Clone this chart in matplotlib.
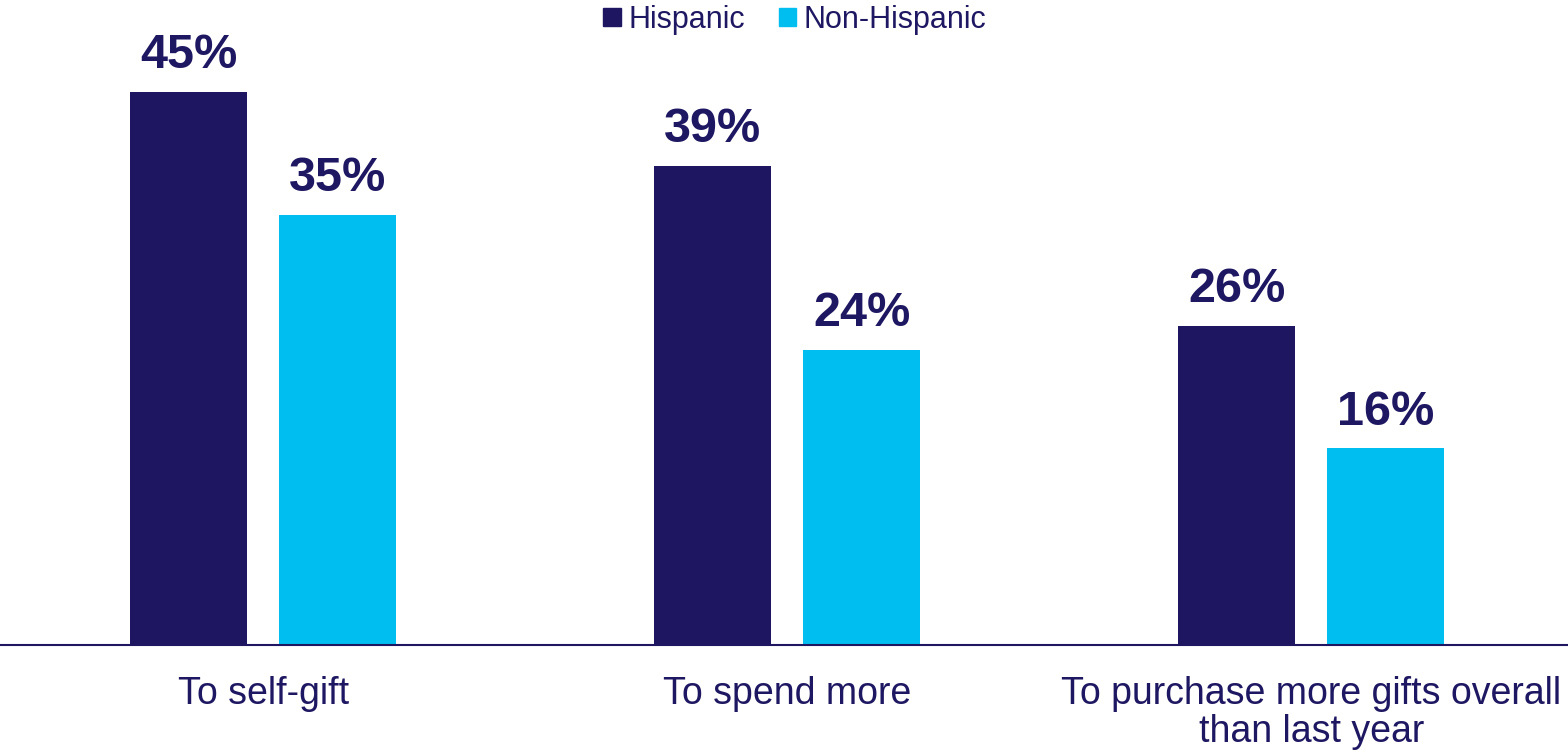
import numpy as np
import matplotlib
matplotlib.use("Agg")
import matplotlib.pyplot as plt
from matplotlib.patches import Patch

plt.rcParams['font.family'] = ['Liberation Sans', 'DejaVu Sans']

categories = ['To self-gift', 'To spend more', 'To purchase more gifts overall\nthan last year']
hispanic = [45, 39, 26]
non_hispanic = [35, 24, 16]

dark = '#1E1660'
light = '#00BFF0'
text_col = '#1E1761'

fig = plt.figure(figsize=(15.68, 7.54), dpi=100)
ax = fig.add_axes([0, 0.1446, 1.0, 0.8554])

x = np.arange(len(categories))
w = 0.223
off = 0.142
b1 = ax.bar(x - off, hispanic, w, color=dark)
b2 = ax.bar(x + off, non_hispanic, w, color=light)

for bars, vals in [(b1, hispanic), (b2, non_hispanic)]:
    for r, v in zip(bars, vals):
        ax.annotate(f'{v}%', (r.get_x() + r.get_width() / 2, v), xytext=(0, 10),
                    textcoords='offset points', ha='center', va='bottom',
                    fontsize=35, fontweight='bold', color=text_col)

ax.set_xlim(-0.502, 2.49)
ax.set_ylim(0, 52.5)
ax.set_xticks(x)
ax.set_xticklabels(categories, fontsize=27, color=text_col, linespacing=1.1)
ax.tick_params(axis='x', length=0, pad=22)
ax.set_yticks([])
for s in ['top', 'right', 'left']:
    ax.spines[s].set_visible(False)
ax.spines['bottom'].set_color(dark)
ax.spines['bottom'].set_linewidth(1.5)

handles = [Patch(color=dark, label='Hispanic'), Patch(color=light, label='Non-Hispanic')]
leg = fig.legend(handles=handles, loc='upper center', bbox_to_anchor=(0.507, 1.03), ncol=2,
                 frameon=False, fontsize=22, handlelength=0.56, handleheight=0.56,
                 handletextpad=0.26, columnspacing=1.1)
for t in leg.get_texts():
    t.set_color(text_col)

fig.savefig('out.png', dpi=100)
